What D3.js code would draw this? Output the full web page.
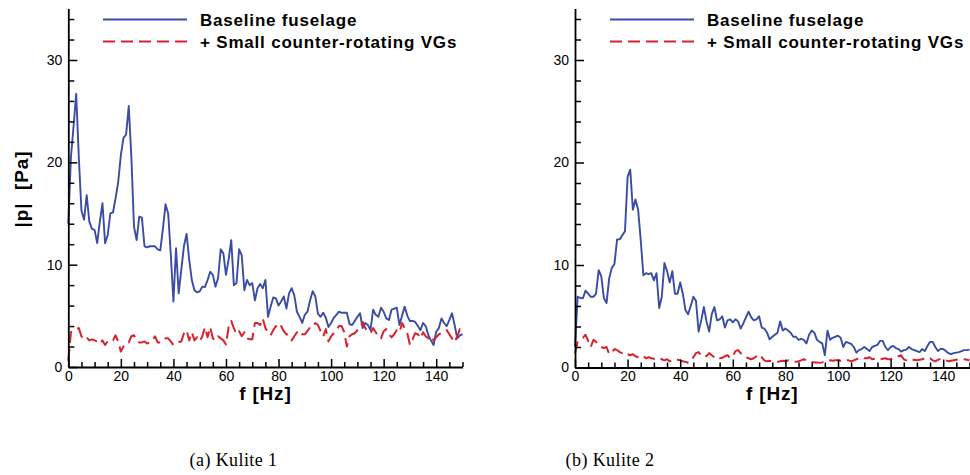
<!DOCTYPE html>
<html>
<head>
<meta charset="utf-8">
<script src="https://cdn.jsdelivr.net/npm/d3@7"></script>
<style>
  html, body { margin: 0; padding: 0; background: #fff; }
  svg { display: block; }
  .tick text { font-family: "Liberation Sans", Arial, Helvetica, sans-serif; font-size: 14px; fill: #000; }
</style>
</head>
<body>
<svg id="chart" width="970" height="475"></svg>
<script>
// Pressure spectra |p| versus frequency, one spectral line per 1 Hz bin
const freqStep = 1; // Hz

const kulite1Baseline = [
  14, 20.5, 23.5, 26.7, 20.5, 15.3, 14.4, 16.8, 14.2, 13.5,
  13.4, 12.1, 14.2, 16.0, 12.1, 12.9, 15.0, 15.1, 16.5, 18.1,
  20.7, 22.4, 22.7, 25.5, 20.5, 13.7, 12.4, 14.7, 14.6, 11.8,
  11.7, 11.8, 11.8, 11.8, 11.5, 11.4, 13.5, 15.9, 15.0, 11.0,
  6.4, 11.6, 7.2, 9.5, 11.8, 13.0, 10.5, 8.5, 7.5, 7.3,
  7.4, 7.85, 7.8, 8.5, 9.3, 9.0, 7.85, 8.7, 11.5, 11.1,
  9.0, 10.5, 12.4, 8.0, 8.2, 11.5, 10.9, 7.5, 8.5, 8.0,
  8.2, 6.5, 7.7, 8.1, 7.7, 8.5, 4.9, 5.9, 6.8, 6.7,
  6.0, 6.4, 6.9, 5.7, 7.2, 7.7, 7.0, 5.4, 4.9, 4.3,
  5.1, 5.4, 6.5, 7.4, 6.9, 5.2, 4.9, 5.3, 4.8, 3.9,
  4.3, 4.8, 5.1, 5.4, 5.3, 5.3, 5.3, 4.2, 4.1, 4.5,
  4.9, 5.25, 3.8, 4.3, 4.1, 3.6, 5.6, 5.1, 4.9, 5.8,
  5.4, 4.75, 4.6, 5.6, 5.7, 5.8, 4.1, 5.0, 5.9, 5.0,
  4.5, 4.5, 4.4, 4.0, 3.6, 4.3, 4.0, 3.1, 2.6, 2.15,
  3.45, 3.8, 4.75, 4.3, 4.0, 4.6, 5.25, 4.1, 2.8, 3.1,
  3.2
];

const kulite1VGs = [
  0.6, 3.4, 3.5, 3.7, 3.8, 3.0, 2.7, 2.9, 2.6, 2.7,
  2.6, 2.5, 2.25, 2.6, 2.15, 2.5, 2.4, 2.6, 3.1, 2.5,
  1.5, 2.0, 2.4, 2.4, 3.0, 3.1, 2.6, 2.4, 2.4, 2.5,
  2.3, 2.4, 2.6, 3.0, 2.4, 2.4, 2.5, 2.8, 2.8, 2.5,
  2.15, 2.3, 2.45, 2.5, 3.3, 3.6, 2.6, 3.4, 2.6, 2.9,
  2.5, 3.0, 3.9, 2.9, 3.9, 2.8, 2.6, 3.0, 2.8, 2.6,
  2.2, 3.9, 4.5, 3.8, 3.2, 3.5, 3.0, 3.4, 2.8, 2.7,
  2.7, 4.3, 4.3, 4.1, 4.75, 3.8, 3.4, 3.1, 3.6, 4.0,
  3.7, 4.0, 3.5, 3.2, 3.1, 2.6, 3.0, 3.4, 3.0, 3.2,
  3.2, 3.5, 3.9, 3.9, 4.3, 4.1, 3.5, 3.0, 3.7, 2.5,
  3.0, 3.3, 3.6, 4.0, 4.0, 3.4, 2.0, 3.0, 3.2, 3.3,
  3.6, 3.8, 4.4, 3.8, 3.5, 3.3, 3.8, 3.4, 3.0, 2.8,
  3.5, 3.7, 3.2, 2.9, 3.2, 3.6, 3.4, 4.3, 3.8, 3.3,
  2.15, 2.7, 3.3, 3.2, 2.8, 3.4, 3.0, 2.8, 3.0, 2.6,
  2.9, 3.2, 3.3, 3.5, 3.6, 3.2, 2.8, 2.4, 3.0, 3.7,
  3.2
];

const kulite2Baseline = [
  2.0, 6.9, 6.8, 6.75, 7.5, 7.2, 6.9, 6.9, 7.2, 9.5,
  8.9, 6.75, 6.3, 8.7, 9.7, 10.1, 12.5, 12.5, 12.9, 13.3,
  18.6, 19.3, 15.4, 16.4, 15.4, 12.4, 9.0, 9.2, 9.1, 9.2,
  8.5, 9.2, 5.8, 6.9, 10.2, 9.4, 8.3, 9.4, 7.2, 7.2,
  8.3, 7.2, 5.6, 5.2, 6.0, 6.9, 6.5, 3.5, 4.6, 5.9,
  4.5, 3.5, 5.2, 5.9, 4.6, 4.7, 5.0, 3.9, 4.6, 4.7,
  4.4, 4.7, 4.5, 3.8, 4.3, 4.9, 5.45, 4.9, 4.6, 4.7,
  5.0, 3.9, 3.8, 3.4, 2.75, 3.0, 3.2, 3.4, 4.5, 3.6,
  3.8, 3.6, 3.4, 3.0, 3.0, 2.7, 2.8, 2.7, 2.35, 3.2,
  3.6, 3.4, 2.7, 2.5, 2.35, 1.2, 3.6, 2.7, 2.9, 3.0,
  3.1, 2.9, 2.0, 2.5, 2.4, 2.3, 2.0, 1.45, 1.7, 1.8,
  2.0, 1.8, 1.6, 2.0, 2.1, 2.2, 2.6, 2.6, 2.0, 1.7,
  2.0, 2.1, 1.9, 1.8, 1.55, 1.7, 1.75, 2.0, 1.8, 1.7,
  1.6, 1.5, 1.8, 1.6, 2.1, 2.5, 2.5, 2.0, 1.6, 1.8,
  1.8, 1.6, 1.4, 1.3, 1.4, 1.45, 1.5, 1.6, 1.7, 1.7,
  1.75
];

const kulite2VGs = [
  1.4, 2.5, 2.75, 2.9, 3.2, 2.6, 2.0, 2.7, 2.5, 2.2,
  2.0, 1.9, 2.0, 1.3, 1.5, 1.8, 1.7, 1.5, 1.4, 1.5,
  1.3, 1.2, 1.3, 1.1, 1.0, 0.95, 1.1, 0.9, 1.0, 0.9,
  0.85, 0.8, 0.9, 0.8, 0.7, 0.8, 0.6, 0.7, 0.8, 0.75,
  0.7, 0.6, 0.55, 0.47, 0.6, 1.0, 1.4, 1.5, 1.2, 1.3,
  1.1, 1.4, 1.2, 1.0, 1.1, 0.9, 0.95, 1.1, 1.2, 0.9,
  1.1, 1.6, 1.7, 1.4, 1.1, 1.0, 0.9, 0.8, 0.9, 1.1,
  1.3, 1.0, 0.7, 0.6, 0.65, 0.6, 0.6, 0.55, 0.6, 0.65,
  0.6, 0.7, 0.7, 0.6, 0.55, 0.6, 0.7, 0.8, 0.7, 0.6,
  0.55, 0.5, 0.5, 0.45, 0.5, 0.6, 0.65, 0.7, 0.65, 0.7,
  0.7, 0.65, 0.7, 0.75, 0.7, 0.6, 0.7, 0.8, 0.9, 1.0,
  0.9, 0.9, 1.0, 0.8, 0.85, 0.9, 0.8, 0.85, 0.9, 0.8,
  0.8, 0.9, 0.95, 1.1, 1.2, 0.8, 0.7, 0.6, 0.7, 0.75,
  0.7, 0.75, 0.8, 0.9, 1.0, 0.9, 0.7, 0.6, 0.75, 0.85,
  0.8, 0.7, 0.6, 0.65, 0.7, 0.75, 0.8, 0.8, 0.8, 0.75,
  0.7
];

const xMajorTicks = [0, 20, 40, 60, 80, 100, 120, 140];
const yMajorTicks = [0, 10, 20, 30];
const seriesNames = ["Baseline fuselage", "+ Small counter-rotating VGs"];
const panelCaptions = ["(a) Kulite 1", "(b) Kulite 2"];
const xTitle = "f [Hz]";
const yTitle = "|p|  [Pa]";

const BLUE = "#3a4ca3";
const RED = "#d8222d";
const DASH = "12,6";
const SANS = '"Liberation Sans", Arial, Helvetica, sans-serif';

const svg = d3.select("#chart");

function drawPanel(opts) {
  const x = d3.scaleLinear().domain([0, 150]).range([opts.x0, opts.x1]);
  const y = d3.scaleLinear().domain([0, 30]).range([opts.y0, 60]);
  const g = svg.append("g");

  // data lines
  const line = d3.line()
    .x((d, i) => x(i * freqStep))
    .y(d => y(d));

  g.append("path").datum(opts.baseline)
    .attr("d", line).attr("fill", "none")
    .attr("stroke", BLUE).attr("stroke-width", 1.9)
    .attr("stroke-linejoin", "round");

  g.append("path").datum(opts.vgs)
    .attr("d", line).attr("fill", "none")
    .attr("stroke", RED).attr("stroke-width", 2)
    .attr("stroke-linejoin", "round")
    .attr("stroke-dasharray", DASH);

  // x axis: minor ticks every 5 Hz, major every 20 Hz, drawn inward
  const xMinor = d3.range(0, 151, 5).filter(v => v % 20 !== 0);
  g.append("g").attr("transform", `translate(0,${opts.y0})`)
    .call(d3.axisBottom(x).tickValues(xMinor).tickSize(-5).tickSizeOuter(0).tickFormat(""))
    .call(a => a.select(".domain").remove());
  const xa = g.append("g").attr("transform", `translate(0,${opts.y0})`)
    .call(d3.axisBottom(x).tickValues(xMajorTicks).tickSize(-8).tickSizeOuter(0).tickPadding(4));
  xa.select(".domain").attr("stroke-width", 1.8);

  // y axis: minor ticks every 2, major every 10
  const yTop = y.invert(8.5);
  const ys = y.copy().domain([0, yTop]).range([opts.y0, 8.5]);
  const yMinor = d3.range(0, 35, 2).filter(v => v % 10 !== 0);
  g.append("g").attr("transform", `translate(${opts.x0},0)`)
    .call(d3.axisLeft(ys).tickValues(yMinor).tickSize(-6).tickSizeOuter(0).tickFormat(""))
    .call(a => a.select(".domain").remove());
  const ya = g.append("g").attr("transform", `translate(${opts.x0},0)`)
    .call(d3.axisLeft(ys).tickValues(yMajorTicks).tickSize(-9).tickSizeOuter(0).tickPadding(6));
  ya.select(".domain").attr("stroke-width", 1.8);

  g.selectAll(".tick line").attr("stroke", "#000").attr("stroke-width", 1.5);

  // x title
  g.append("text")
    .attr("x", (opts.x0 + opts.x1) / 2).attr("y", 400)
    .attr("text-anchor", "middle")
    .style("font-family", SANS).style("font-weight", "bold")
    .style("font-size", "19px").style("letter-spacing", "0.8px")
    .text(xTitle);

  // legend
  const lx = opts.legendX;
  g.append("line").attr("x1", lx).attr("x2", lx + 84).attr("y1", 19.5).attr("y2", 19.5)
    .attr("stroke", BLUE).attr("stroke-width", 1.8);
  g.append("line").attr("x1", lx).attr("x2", lx + 84).attr("y1", 41.5).attr("y2", 41.5)
    .attr("stroke", RED).attr("stroke-width", 1.9).attr("stroke-dasharray", DASH);
  [25.5, 47.5].forEach((by, i) => {
    g.append("text").attr("x", lx + 97).attr("y", by)
      .style("font-family", SANS).style("font-weight", "bold")
      .style("font-size", "17px").style("letter-spacing", "0.8px")
      .text(seriesNames[i]);
  });

  // caption below the panel
  svg.append("text")
    .attr("x", opts.captionX).attr("y", 466)
    .attr("text-anchor", "middle")
    .style("font-family", '"Liberation Serif", "Times New Roman", serif')
    .style("font-size", "18px").style("letter-spacing", "0.4px")
    .text(opts.caption);

  return g;
}

drawPanel({
  x0: 68.3, x1: 462.5, y0: 367,
  baseline: kulite1Baseline, vgs: kulite1VGs,
  legendX: 103, captionX: 233.5, caption: panelCaptions[0]
});

drawPanel({
  x0: 575, x1: 969.5, y0: 367.5,
  baseline: kulite2Baseline, vgs: kulite2VGs,
  legendX: 610, captionX: 610, caption: panelCaptions[1]
});

// y title on the left panel only
svg.append("text")
  .attr("transform", "translate(27.5,189) rotate(-90)")
  .attr("text-anchor", "middle")
  .style("font-family", SANS).style("font-weight", "bold")
  .style("font-size", "19px").style("letter-spacing", "0.9px")
  .style("white-space", "pre")
  .text(yTitle);
</script>
</body>
</html>
